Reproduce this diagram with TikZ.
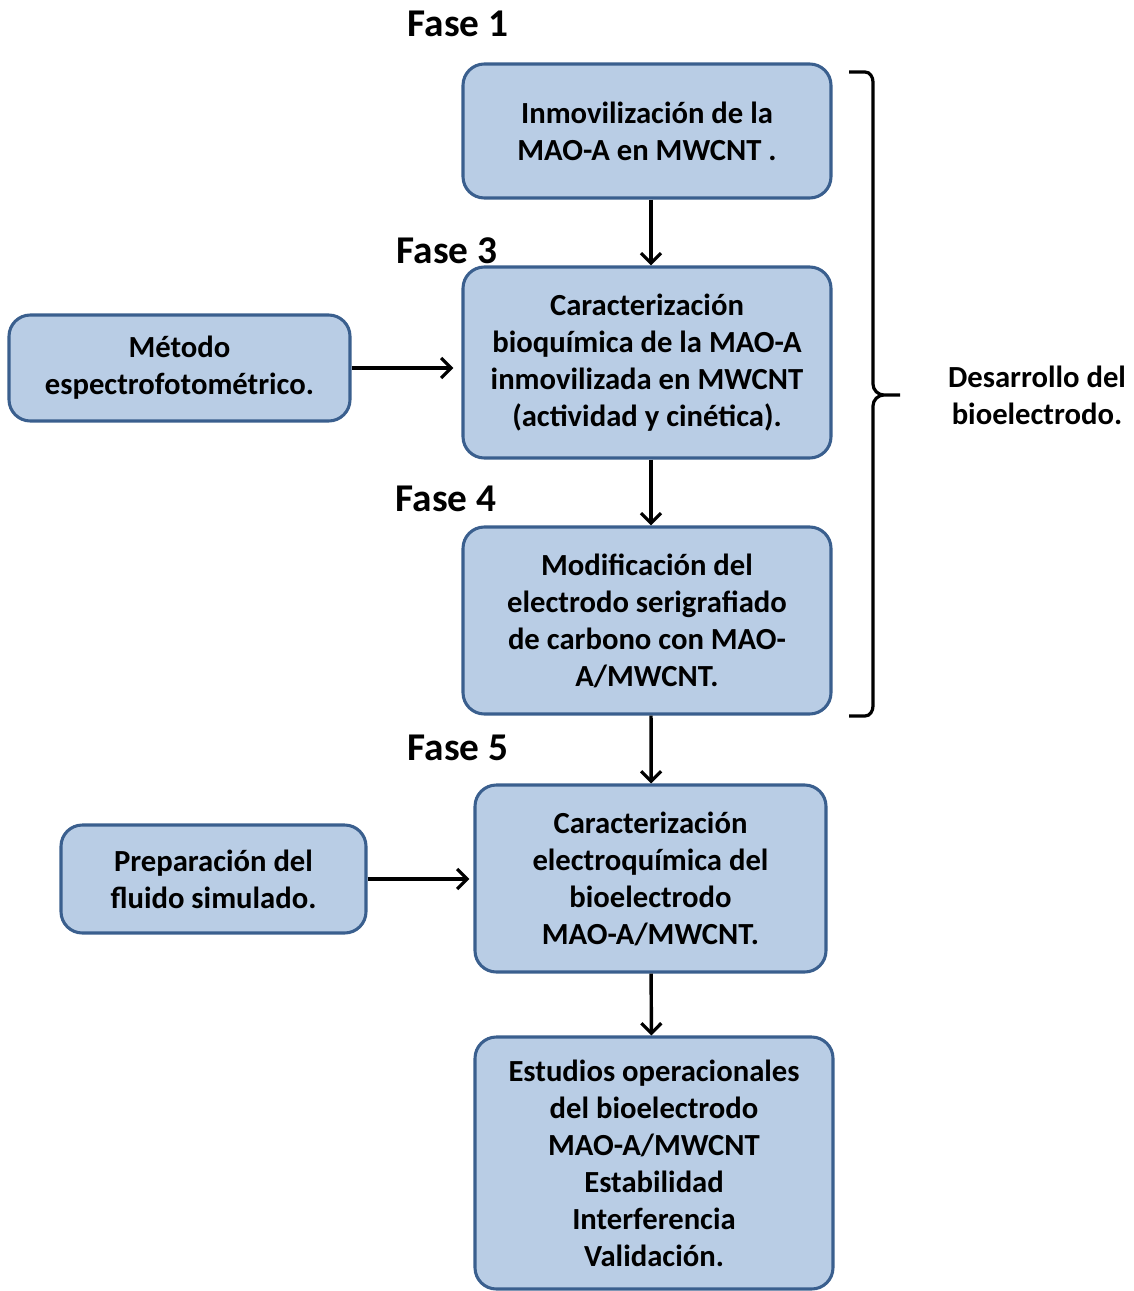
\documentclass[tikz,border=0pt]{standalone}
\usepackage{fontspec}
\setmainfont{Carlito}
\usetikzlibrary{arrows.meta,positioning}
\definecolor{boxfill}{HTML}{B9CDE5}
\definecolor{boxline}{HTML}{3A5F8E}

\begin{document}
\begin{tikzpicture}[
  x=0.75pt, y=-0.75pt,
  font=\fontsize{23}{27.75}\selectfont\bfseries,
  % one style for every step box; sizes are set per node
  stepbox/.style={draw=boxline, fill=boxfill, line width=2.3pt,
    rounded corners=16pt, align=center, inner sep=2pt},
  phase/.style={font=\fontsize{29.5}{34}\selectfont\bfseries, inner sep=0pt},
  flow/.style={-{Straight Barb[length=7.5pt,width=15pt,line width=2.4pt]},
    line width=2.6pt}
]
\useasboundingbox (0,0) rectangle (1133,1291);

\node[stepbox, minimum width=276pt, minimum height=100.5pt] (inmov) at (647,131)
  {Inmovilización de la\\MAO-A en MWCNT .};
\node[stepbox, minimum width=276pt, minimum height=143.25pt] (bioq) at (647,362.5)
  {Caracterización\\bioquímica de la MAO-A\\inmovilizada en MWCNT\\(actividad y cinética).};
\node[stepbox, minimum width=276pt, minimum height=140.25pt] (modif) at (647,620.5)
  {Modificación del\\electrodo serigrafiado\\de carbono con MAO-\\A/MWCNT.};
\node[stepbox, minimum width=263.25pt, minimum height=140.25pt] (electroq) at (650.5,878.5)
  {Caracterización\\electroquímica del\\bioelectrodo\\MAO-A/MWCNT.};
\node[stepbox, minimum width=268.5pt, minimum height=189pt] (estudios) at (654,1163)
  {Estudios operacionales\\del bioelectrodo\\MAO-A/MWCNT\\Estabilidad\\Interferencia\\Validación.};

\node[stepbox, minimum width=255.75pt, minimum height=79.5pt] (metodo) at (179.5,368)
  {Método\\espectrofotométrico.};
\node[stepbox, minimum width=228.75pt, minimum height=81pt] (prep) at (213.5,879)
  {Preparación del\\fluido simulado.};

\node[phase] (f1) at (458,24) {Fase 1};
\node[phase] (f3) at (447,251) {Fase 3};
\node[phase] (f4) at (446,499) {Fase 4};
\node[phase] (f5) at (458,748) {Fase 5};

\draw[flow] ([xshift=3pt]inmov.south) -- ([xshift=3pt]bioq.north);
\draw[flow] ([xshift=3pt]bioq.south) -- ([xshift=3pt]modif.north);
\draw[flow] ([xshift=3pt]modif.south) -- ([xshift=0.5pt]electroq.north);
\draw[flow] ([xshift=0.5pt]electroq.south) -- ([xshift=-2pt]estudios.north);
\draw[flow, shorten >=6pt] (metodo.east) -- (metodo.east -| bioq.west);
\draw[flow, shorten >=3pt] (prep.east) -- (prep.east -| electroq.west);

% brace for the development phases
\coordinate (brtop) at (849,72);
\coordinate (brbot) at (849,716);
\coordinate (brtip) at (900,395);
\draw[line width=2.4pt] (brtop) -- (865,72) to[out=0,in=90] (873,82) -- (873,384)
  to[out=-90,in=180] (884,395) -- (brtip) -- (884,395)
  to[out=180,in=90] (873,406) -- (873,706) to[out=-90,in=0] (865,716) -- (brbot);
\node[align=center] (desarrollo) at (1037,395) {Desarrollo del\\bioelectrodo.};
\end{tikzpicture}
\end{document}
